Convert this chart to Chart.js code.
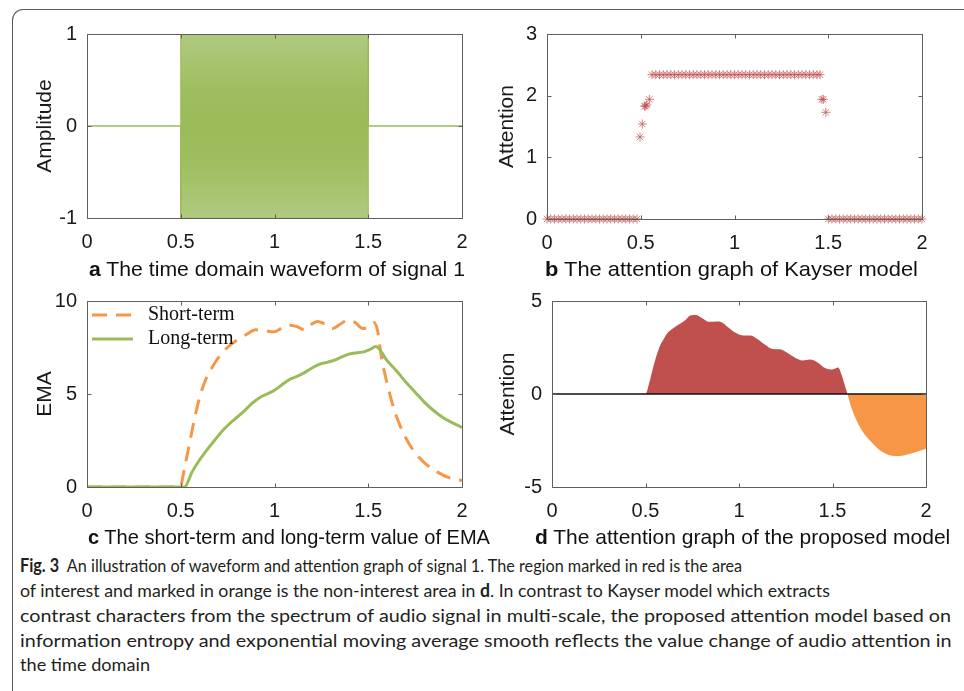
<!DOCTYPE html>
<html>
<head>
<meta charset="utf-8">
<script src="https://cdn.jsdelivr.net/npm/chart.js@4.4.1/dist/chart.umd.min.js"></script>
<style>
  body { margin: 0; background: #fff; width: 964px; height: 691px; overflow: hidden; position: relative;
         font-family: "Liberation Sans", Arial, sans-serif; }
  canvas { position: absolute; }
  .frame { position: absolute; left: 12px; top: 9px; width: 1000px; height: 720px;
           border-left: 1.5px solid #5a5a5a; border-top: 1.5px solid #5a5a5a; border-top-left-radius: 11px; }
  .sub { position: absolute; font-size: 21px; line-height: 24px; color: #111; white-space: nowrap; transform-origin: 0 50%; }
  .cap { position: absolute; left: 20px; font-family: Lato, "Open Sans", sans-serif;
         font-size: 18px; line-height: 24px; color: #231f20; white-space: nowrap; transform-origin: 0 50%; }
</style>
</head>
<body>
<div class="frame"></div>

<canvas id="panelA"></canvas>
<canvas id="panelB"></canvas>
<canvas id="panelC"></canvas>
<canvas id="panelD"></canvas>

<div class="sub" style="left:89px;top:257px" data-w="376"><b>a</b> The time domain waveform of signal 1</div>
<div class="sub" style="left:545px;top:257px" data-w="373"><b>b</b> The attention graph of Kayser model</div>
<div class="sub" style="left:88px;top:525px" data-w="402"><b>c</b> The short-term and long-term value of EMA</div>
<div class="sub" style="left:535px;top:525px" data-w="415"><b>d</b> The attention graph of the proposed model</div>

<div class="cap" style="top:553px" data-w="722"><b>Fig. 3</b>&nbsp; An illustration of waveform and attention graph of signal 1. The region marked in red is the area</div>
<div class="cap" style="top:578px" data-w="810">of interest and marked in orange is the non-interest area in <b>d</b>. In contrast to Kayser model which extracts</div>
<div class="cap" style="top:603px" data-w="931">contrast characters from the spectrum of audio signal in multi-scale, the proposed attention model based on</div>
<div class="cap" style="top:628px" data-w="931">information entropy and exponential moving average smooth reflects the value change of audio attention in</div>
<div class="cap" style="top:652px" data-w="130">the time domain</div>

<script>
// a: envelope of the test tone (fills solid between +1 and -1)
const waveTime = [0, 0.5, 0.5, 1.5, 1.5, 2];
const waveUpper = [0, 0, 1, 1, 0, 0];
const waveLower = [0, 0, -1, -1, 0, 0];

// b: Kayser model attention
const kayserTime = [
  0, 0.02, 0.04, 0.06, 0.08, 0.1, 0.12, 0.14, 0.16, 0.18, 0.2, 0.22, 0.24, 0.26, 0.28, 0.3, 0.32, 0.34, 0.36, 0.38, 0.4, 0.42, 0.44, 0.46, 0.48,
  0.496, 0.508, 0.52, 0.526, 0.532, 0.546,
  0.56, 0.58, 0.6, 0.62, 0.64, 0.66, 0.68, 0.7, 0.72, 0.74, 0.76, 0.78, 0.8, 0.82, 0.84, 0.86, 0.88, 0.9, 0.92, 0.94, 0.96, 0.98, 1,
  1.02, 1.04, 1.06, 1.08, 1.1, 1.12, 1.14, 1.16, 1.18, 1.2, 1.22, 1.24, 1.26, 1.28, 1.3, 1.32, 1.34, 1.36, 1.38, 1.4, 1.42, 1.44, 1.456,
  1.466, 1.474, 1.487,
  1.5, 1.52, 1.54, 1.56, 1.58, 1.6, 1.62, 1.64, 1.66, 1.68, 1.7, 1.72, 1.74, 1.76, 1.78, 1.8, 1.82, 1.84, 1.86, 1.88, 1.9, 1.92, 1.94, 1.96, 1.98, 2
];
const kayserValue = [
  0, 0, 0, 0, 0, 0, 0, 0, 0, 0, 0, 0, 0, 0, 0, 0, 0, 0, 0, 0, 0, 0, 0, 0, 0,
  1.33, 1.54, 1.83, 1.83, 1.85, 1.94,
  2.34, 2.34, 2.34, 2.34, 2.34, 2.34, 2.34, 2.34, 2.34, 2.34, 2.34, 2.34, 2.34, 2.34, 2.34, 2.34, 2.34, 2.34, 2.34, 2.34, 2.34, 2.34, 2.34,
  2.34, 2.34, 2.34, 2.34, 2.34, 2.34, 2.34, 2.34, 2.34, 2.34, 2.34, 2.34, 2.34, 2.34, 2.34, 2.34, 2.34, 2.34, 2.34, 2.34, 2.34, 2.34, 2.34,
  1.94, 1.94, 1.73,
  0, 0, 0, 0, 0, 0, 0, 0, 0, 0, 0, 0, 0, 0, 0, 0, 0, 0, 0, 0, 0, 0, 0, 0, 0, 0
];

// c: EMA values
const shortTime = [0, 0.5, 0.51, 0.54, 0.57, 0.6, 0.63, 0.66, 0.69, 0.72, 0.76, 0.8, 0.85, 0.9, 0.95, 1.0, 1.04, 1.08, 1.12, 1.16,
  1.19, 1.23, 1.27, 1.31, 1.35, 1.39, 1.43, 1.47, 1.5, 1.53, 1.55, 1.57, 1.6, 1.64, 1.69, 1.74, 1.8, 1.87, 1.93, 2.0];
const shortValue = [0, 0, 0.5, 2.0, 3.5, 4.8, 5.7, 6.3, 6.8, 7.2, 7.6, 7.9, 8.2, 8.45, 8.4, 8.35, 8.55, 8.7, 8.62, 8.45,
  8.7, 8.9, 8.75, 8.52, 8.75, 8.97, 8.85, 8.52, 8.6, 8.85, 8.4, 7.0, 5.6, 4.1, 2.85, 1.97, 1.3, 0.8, 0.5, 0.35];
const longTime = [0, 0.52, 0.56, 0.6, 0.64, 0.68, 0.72, 0.76, 0.8, 0.84, 0.88, 0.92, 0.96, 1.0, 1.04, 1.08, 1.12, 1.16, 1.2,
  1.24, 1.28, 1.32, 1.36, 1.4, 1.44, 1.48, 1.51, 1.54, 1.6, 1.65, 1.7, 1.75, 1.8, 1.85, 1.9, 1.95, 2.0];
const longValue = [0, 0, 0.8, 1.45, 2.0, 2.5, 3.0, 3.4, 3.75, 4.1, 4.5, 4.8, 5.0, 5.2, 5.5, 5.78, 5.95, 6.15, 6.4,
  6.6, 6.7, 6.82, 7.0, 7.15, 7.22, 7.28, 7.4, 7.55, 6.8, 6.25, 5.65, 5.1, 4.55, 4.1, 3.72, 3.45, 3.2];

// d: proposed model attention
const attTime = [0, 0.5, 0.52, 0.54, 0.56, 0.58, 0.6, 0.62, 0.65, 0.68, 0.71, 0.74, 0.77, 0.8, 0.84, 0.88, 0.91, 0.94, 0.98, 1.02,
  1.06, 1.1, 1.14, 1.18, 1.22, 1.26, 1.3, 1.34, 1.38, 1.42, 1.46, 1.5, 1.53, 1.55, 1.565, 1.58, 1.6, 1.63, 1.66, 1.7,
  1.75, 1.8, 1.84, 1.88, 1.92, 1.96, 2.0];
const attValue = [0, 0, 0.6, 1.4, 2.1, 2.65, 3.0, 3.3, 3.55, 3.75, 3.95, 4.22, 4.25, 4.1, 3.88, 3.9, 3.85, 3.6, 3.3, 3.15,
  3.15, 2.95, 2.65, 2.42, 2.4, 2.2, 1.95, 1.8, 1.85, 1.7, 1.4, 1.32, 1.42, 1.0, 0.5, 0, -0.7, -1.45, -2.0, -2.5,
  -3.0, -3.28, -3.33, -3.3, -3.2, -3.08, -2.94];
const zeroTime = [0, 2];
const zeroValue = [0, 0];

const xTicks = [0, 0.5, 1, 1.5, 2];

const GREEN = '#9bbb59', ORANGE = '#f79646', RED = '#c0504d';

Chart.defaults.font.family = '"Liberation Sans", Arial, sans-serif';
Chart.defaults.color = '#1a1a1a';

const pts = (xs, ys) => xs.map((x, i) => ({ x: x, y: ys[i] }));

// matlab style box with inward ticks
const boxTicks = {
  id: 'boxTicks',
  afterDatasetsDraw(chart) {
    const { ctx, chartArea: a, scales: { x, y } } = chart;
    const l = Math.round(a.left) + 0.5, r = Math.round(a.right) + 0.5;
    const t = Math.round(a.top) + 0.5, b = Math.round(a.bottom) + 0.5;
    ctx.save();
    ctx.strokeStyle = '#5e5e5e';
    ctx.lineWidth = 1;
    ctx.beginPath();
    x.ticks.forEach(tk => {
      const px = Math.round(x.getPixelForValue(tk.value)) + 0.5;
      ctx.moveTo(px, b); ctx.lineTo(px, b - 4);
      ctx.moveTo(px, t); ctx.lineTo(px, t + 4);
    });
    y.ticks.forEach(tk => {
      const py = Math.round(y.getPixelForValue(tk.value)) + 0.5;
      ctx.moveTo(l, py); ctx.lineTo(l + 4, py);
      ctx.moveTo(r, py); ctx.lineTo(r - 4, py);
    });
    ctx.rect(l, t, r - l, b - t);
    ctx.stroke();
    ctx.restore();
  }
};

const emaLegend = {
  id: 'emaLegend',
  afterDraw(chart) {
    const { ctx, chartArea: a } = chart;
    const items = chart.data.datasets.slice().sort((p, q) => p.legendRank - q.legendRank);
    items.forEach((ds, i) => {
      const y = a.top + 14 + i * 24;
      ctx.save();
      ctx.strokeStyle = ds.borderColor;
      ctx.lineWidth = ds.borderWidth;
      ctx.setLineDash(ds.borderDash || []);
      ctx.beginPath();
      ctx.moveTo(a.left + 5, y);
      ctx.lineTo(a.left + 46, y);
      ctx.stroke();
      ctx.setLineDash([]);
      ctx.fillStyle = '#111';
      ctx.font = '20px "Liberation Serif", "Times New Roman", serif';
      ctx.textBaseline = 'middle';
      ctx.fillText(ds.label, a.left + 61, y);
      ctx.restore();
    });
  }
};

function makePanel(id, originX, L, T, R, B, yOpts, titleX, datasets, extraPlugins) {
  const cv = document.getElementById(id);
  const w = R - originX + 20, h = B - T + 60;
  cv.width = w; cv.height = h;
  cv.style.left = originX + 'px';
  cv.style.top = (T - 20) + 'px';
  return new Chart(cv, {
    type: 'line',
    data: { datasets: datasets },
    options: {
      responsive: false,
      animation: false,
      layout: { padding: { left: 0, top: 20, right: 20, bottom: 0 } },
      plugins: { legend: { display: false }, tooltip: { enabled: false } },
      elements: { point: { radius: 0 } },
      scales: {
        x: {
          type: 'linear', min: 0, max: 2,
          afterFit: s => { s.height = 40; },
          afterBuildTicks: s => { s.ticks = xTicks.map(v => ({ value: v })); },
          grid: { display: false, drawTicks: false },
          border: { display: false },
          ticks: { padding: 12, font: { size: 20 }, callback: v => String(v) }
        },
        y: {
          type: 'linear', min: yOpts.min, max: yOpts.max,
          afterFit: s => { s.width = L - originX; },
          afterBuildTicks: s => { s.ticks = yOpts.ticks.map(v => ({ value: v })); },
          grid: { display: false, drawTicks: false },
          border: { display: false },
          ticks: { padding: 10, font: { size: 20 }, callback: v => String(v) },
          title: { display: true, text: yOpts.title, font: { size: 21 }, color: '#1a1a1a',
                   padding: { top: titleX - originX - 12.6, bottom: 0 } }
        }
      }
    },
    plugins: [boxTicks].concat(extraPlugins || [])
  });
}

// a
makePanel('panelA', 0, 87, 32, 462, 218,
  { min: -1, max: 1, ticks: [-1, 0, 1], title: 'Amplitude' }, 45, [
  { data: pts(waveTime, waveUpper), borderColor: GREEN, borderWidth: 1, fill: false },
  { data: pts(waveTime, waveLower), borderColor: GREEN, borderWidth: 1, fill: '-1',
    backgroundColor: (c) => {
      const a = c.chart.chartArea;
      if (!a) return GREEN;
      const g = c.chart.ctx.createLinearGradient(0, a.top, 0, a.bottom);
      g.addColorStop(0, '#b0ca80');
      g.addColorStop(0.3, '#9fbe5f');
      g.addColorStop(0.5, '#9bbb59');
      g.addColorStop(0.7, '#9fbe5f');
      g.addColorStop(1, '#b0ca80');
      return g;
    } }
]);

// b
makePanel('panelB', 480, 547, 32, 922, 219,
  { min: 0, max: 3, ticks: [0, 1, 2, 3], title: 'Attention' }, 507, [
  { data: pts(kayserTime, kayserValue), showLine: false, clip: false,
    pointStyle: 'star', pointRadius: 4.5, pointBorderWidth: 1,
    pointBorderColor: 'rgba(192,80,77,0.7)', pointBackgroundColor: 'rgba(0,0,0,0)' }
]);

// c
makePanel('panelC', 0, 87, 299, 462, 487,
  { min: 0, max: 10, ticks: [0, 5, 10], title: 'EMA' }, 45, [
  { label: 'Short-term', legendRank: 0, order: 2, data: pts(shortTime, shortValue), borderColor: ORANGE,
    borderWidth: 3, borderDash: [15, 9], cubicInterpolationMode: 'monotone', fill: false },
  { label: 'Long-term', legendRank: 1, order: 1, data: pts(longTime, longValue), borderColor: GREEN,
    borderWidth: 3, cubicInterpolationMode: 'monotone', fill: false }
], [emaLegend]);

// d
makePanel('panelD', 480, 552, 299, 926, 487,
  { min: -5, max: 5, ticks: [-5, 0, 5], title: 'Attention' }, 508, [
  { order: 1, data: pts(zeroTime, zeroValue), borderColor: '#111', borderWidth: 1.5, fill: false },
  { order: 2, data: pts(attTime, attValue), borderColor: 'rgba(0,0,0,0)', borderWidth: 0,
    cubicInterpolationMode: 'monotone', fill: { target: 'origin', above: RED, below: ORANGE } }
]);

// fit text lines to the widths measured on the printed figure
document.querySelectorAll('[data-w]').forEach(el => {
  const s = +el.dataset.w / el.scrollWidth;
  el.style.transform = 'scaleX(' + s.toFixed(4) + ')';
});
</script>
</body>
</html>
